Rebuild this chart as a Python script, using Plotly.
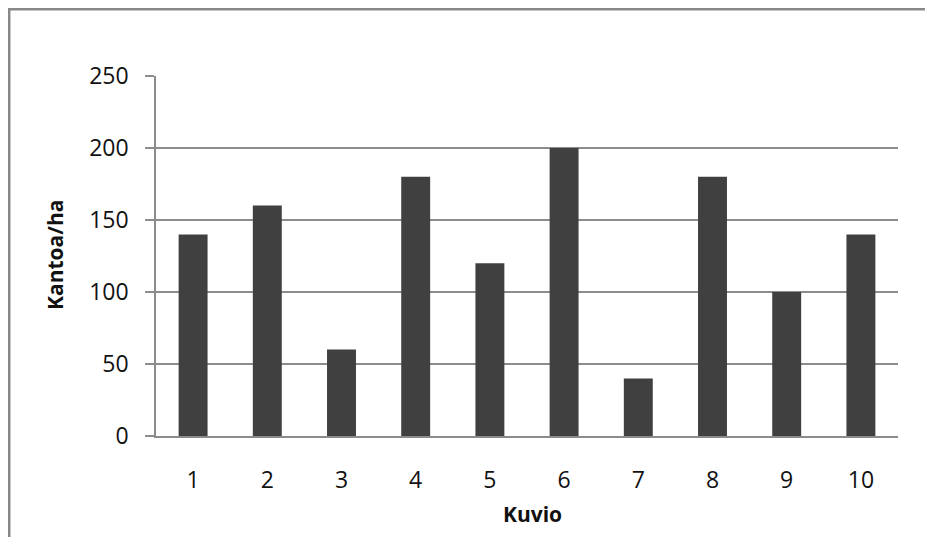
import plotly.graph_objects as go

categories = ["1", "2", "3", "4", "5", "6", "7", "8", "9", "10"]
values = [140, 160, 60, 180, 120, 200, 40, 180, 100, 140]
y_ticks = [0, 50, 100, 150, 200, 250]
x_title = "Kuvio"
y_title = "Kantoa/ha"

# The page body adds an 8px margin, so the figure starts at (8, 8).
W, H = 925, 529
L, R, T, B = 148, 35, 68, 101
pw, ph = W - L - R, H - T - B
OFF = 8

def px_to_paper_x(px):
    return (px - OFF - L) / pw

def px_to_paper_y(py):
    return (H - B - (py - OFF)) / ph

fig = go.Figure(go.Bar(
    x=categories, y=values,
    marker=dict(color="#404040", line=dict(width=0)),
    width=0.39,
))

font = "Open Sans, Noto Sans, Liberation Sans, sans-serif"
fig.update_layout(
    width=W, height=H,
    margin=dict(l=L, r=R, t=T, b=B, pad=0),
    paper_bgcolor="white", plot_bgcolor="white",
    font=dict(family=font, size=23, color="#111111"),
    showlegend=False,
    xaxis=dict(
        type="category",
        showgrid=False,
        showline=True, linecolor="#8c8c8c", linewidth=1.5,
        ticks="", ticklabelstandoff=23,
        tickfont=dict(size=23, color="#111111"),
    ),
    yaxis=dict(
        range=[0, 250],
        tickvals=y_ticks,
        showgrid=True, gridcolor="#8c8c8c", gridwidth=1.5,
        showline=True, linecolor="#8c8c8c", linewidth=1.5,
        ticks="outside", ticklen=9, tickcolor="#8c8c8c", tickwidth=1.5,
        ticklabelstandoff=12,
        tickfont=dict(size=23, color="#111111"),
        zeroline=False,
    ),
    annotations=[
        dict(text="<b>" + x_title + "</b>", xref="paper", yref="paper",
             x=px_to_paper_x(532), y=px_to_paper_y(514),
             xanchor="center", yanchor="middle", showarrow=False,
             font=dict(size=21, color="#111111")),
        dict(text="<b>" + y_title + "</b>", xref="paper", yref="paper",
             x=px_to_paper_x(55), y=px_to_paper_y(255),
             xanchor="center", yanchor="middle", showarrow=False,
             textangle=-90, font=dict(size=21, color="#111111")),
    ],
    shapes=[dict(
        type="rect", xref="paper", yref="paper",
        x0=px_to_paper_x(9.2), x1=px_to_paper_x(970),
        y0=px_to_paper_y(570), y1=px_to_paper_y(9.2),
        line=dict(color="#888888", width=2.5), fillcolor="rgba(0,0,0,0)",
        layer="below",
    )],
)

fig.write_html("out.html")
